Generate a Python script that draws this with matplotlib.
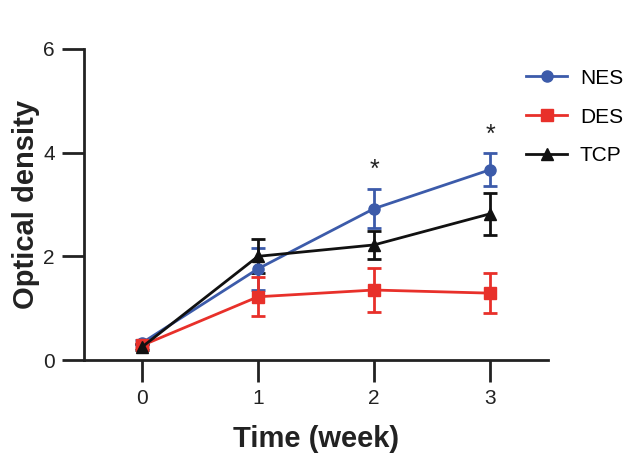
import matplotlib.pyplot as plt
from matplotlib.lines import Line2D

plt.rcParams['font.family'] = ['Liberation Sans', 'DejaVu Sans']

weeks = [0, 1, 2, 3]
nes = [0.33, 1.76, 2.92, 3.67]
nes_err = [0.05, 0.40, 0.38, 0.32]
des = [0.28, 1.22, 1.35, 1.29]
des_err = [0.05, 0.38, 0.43, 0.38]
tcp = [0.25, 2.00, 2.22, 2.82]
tcp_err = [0.05, 0.33, 0.27, 0.41]
star_x = [2, 3]
star_y = [3.66, 4.34]

fig = plt.figure(figsize=(6.32, 4.54), dpi=100)
ax = fig.add_axes([84/632, 94/454, 464/632, 311/454])

series = [
    ('NES', nes, nes_err, '#3C5BAA', 'o'),
    ('DES', des, des_err, '#E8302A', 's'),
    ('TCP', tcp, tcp_err, '#111111', '^'),
]
handles = []
for label, vals, err, color, marker in series:
    ax.errorbar(weeks, vals, yerr=err, color=color, marker=marker,
                markersize=8, linewidth=2, elinewidth=2,
                capsize=5, capthick=2)
    handles.append(Line2D([], [], color=color, marker=marker, markersize=8,
                          linewidth=2, label=label))

for x, y in zip(star_x, star_y):
    ax.text(x, y, '*', fontsize=18, ha='center', va='center', color='#222222')

ax.set_xlim(-0.5, 3.5)
ax.set_ylim(0, 6)
ax.set_xticks(weeks)
ax.set_yticks([0, 2, 4, 6])
ax.spines['top'].set_visible(False)
ax.spines['right'].set_visible(False)
for s in ['left', 'bottom']:
    ax.spines[s].set_linewidth(2)
    ax.spines[s].set_color('#222222')
ax.tick_params(length=16, width=2, color='#222222', labelsize=15,
               labelcolor='#222222', pad=5)

ax.set_xlabel('Time (week)', fontsize=21, fontweight='bold', color='#222222',
              labelpad=12)
ax.set_ylabel('Optical density', fontsize=21, fontweight='bold', color='#222222',
              labelpad=2)

fig.legend(handles=handles, loc='upper left',
           bbox_to_anchor=(507/632, 1 - 50/454),
           frameon=False, fontsize=15, handlelength=2.0, labelspacing=0.95,
           handletextpad=0.6)

fig.savefig('out.png', dpi=100)
